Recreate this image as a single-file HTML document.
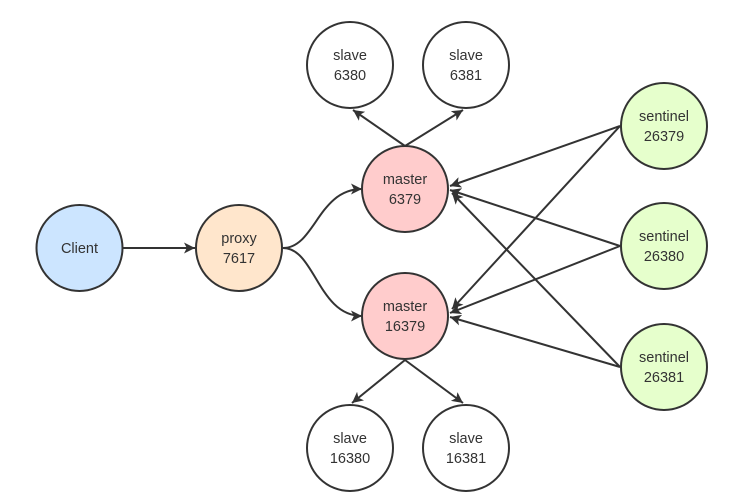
<!DOCTYPE html>
<html><head><meta charset="utf-8"><style>
html,body{margin:0;padding:0;background:#fff;}
svg{display:block;}
text{font-family:"Liberation Sans","DejaVu Sans",sans-serif;font-size:14.5px;fill:#333;text-anchor:middle;}
</style></head><body>
<svg width="752" height="500" viewBox="0 0 752 500" xmlns="http://www.w3.org/2000/svg">
<defs>
<marker id="a" viewBox="0 0 10 10" refX="10" refY="5" markerWidth="11" markerHeight="11" markerUnits="userSpaceOnUse" orient="auto">
<path d="M0,0 L10,5 L0,10 L2.5,5 z" fill="#333"/>
</marker>
</defs>
<g stroke="#333" stroke-width="2" fill="none" marker-end="url(#a)">
<line x1="123" y1="248" x2="195" y2="248"/>
<path d="M283,248 C315,248 318,189 362,189"/>
<path d="M283,248 C315,248 318,316 362,316"/>
<line x1="405" y1="146" x2="353" y2="110"/>
<line x1="405" y1="146" x2="463" y2="110"/>
<line x1="405" y1="360" x2="352" y2="403"/>
<line x1="405" y1="360" x2="463" y2="403"/>
<line x1="620" y1="126" x2="450" y2="186"/>
<line x1="620" y1="246" x2="450" y2="190"/>
<line x1="620" y1="367" x2="452" y2="193"/>
<line x1="620" y1="126" x2="452" y2="309"/>
<line x1="620" y1="246" x2="450" y2="313"/>
<line x1="620" y1="367" x2="450" y2="317"/>
</g>
<g stroke="#333" stroke-width="2">
<circle cx="79.5" cy="248" r="43" fill="#cce5ff"/>
<circle cx="239" cy="248" r="43" fill="#ffe6cc"/>
<circle cx="405" cy="189" r="43" fill="#ffcccc"/>
<circle cx="405" cy="316" r="43" fill="#ffcccc"/>
<circle cx="350" cy="65" r="43" fill="#fff"/>
<circle cx="466" cy="65" r="43" fill="#fff"/>
<circle cx="350" cy="448" r="43" fill="#fff"/>
<circle cx="466" cy="448" r="43" fill="#fff"/>
<circle cx="664" cy="126" r="43" fill="#e6ffcc"/>
<circle cx="664" cy="246" r="43" fill="#e6ffcc"/>
<circle cx="664" cy="367" r="43" fill="#e6ffcc"/>
</g>
<text x="79.5" y="253">Client</text>
<text x="239" y="243">proxy</text><text x="239" y="263">7617</text>
<text x="405" y="184">master</text><text x="405" y="204">6379</text>
<text x="405" y="311">master</text><text x="405" y="331">16379</text>
<text x="350" y="60">slave</text><text x="350" y="80">6380</text>
<text x="466" y="60">slave</text><text x="466" y="80">6381</text>
<text x="350" y="443">slave</text><text x="350" y="463">16380</text>
<text x="466" y="443">slave</text><text x="466" y="463">16381</text>
<text x="664" y="121">sentinel</text><text x="664" y="141">26379</text>
<text x="664" y="241">sentinel</text><text x="664" y="261">26380</text>
<text x="664" y="362">sentinel</text><text x="664" y="382">26381</text>
</svg>
</body></html>
